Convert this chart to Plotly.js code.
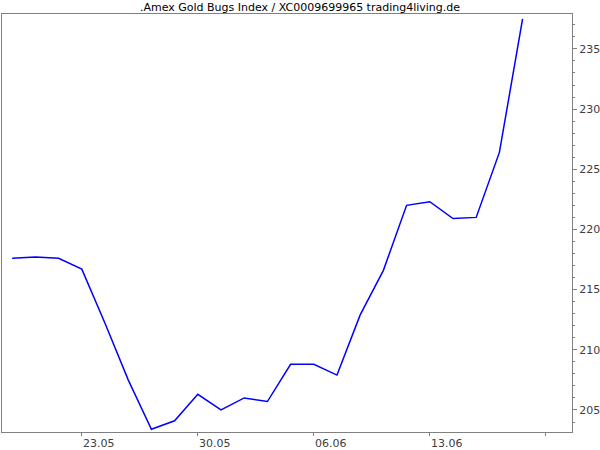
<!DOCTYPE html>
<html>
<head>
<meta charset="utf-8">
<script src="https://cdn.plot.ly/plotly-3.0.1.min.js"></script>
<style>
  html, body { margin: 0; padding: 0; background: #fff; }
  #chart { width: 600px; height: 450px; }
</style>
</head>
<body>
<div id="chart"></div>
<script>
// Trading days (dd.mm)
const dates = ['18.05','19.05','20.05','23.05','24.05','25.05','26.05','27.05',
               '30.05','31.05','01.06','02.06','03.06','06.06','07.06','08.06',
               '09.06','10.06','13.06','14.06','15.06','16.06','17.06'];
// Index close values
const closes = [217.6, 217.7, 217.6, 216.7, 212.2, 207.5, 203.4, 204.1,
                206.3, 205.0, 206.0, 205.7, 208.8, 208.8, 207.9, 212.9,
                216.6, 222.0, 222.3, 220.9, 221.0, 226.4, 237.5];
// Weekly tick labels (Mondays); last tick is drawn without a label
const tickDays  = ['23.05','30.05','06.06','13.06','20.06'];
const tickShown = [true, true, true, true, false];

const chartTitle = '.Amex Gold Bugs Index / XC0009699965 trading4living.de';

const xIdx = dates.map((d, i) => i);
const firstTick = dates.indexOf(tickDays[0]);
const tickvals = tickDays.map((d, k) => firstTick + 5 * k);
const ticktext = tickDays.map((d, k) => tickShown[k] ? d : '');

const trace = {
  x: xIdx,
  y: closes,
  text: dates,
  type: 'scatter',
  mode: 'lines',
  line: { color: '#0000ff', width: 1.5 },
  hovertemplate: '%{text}: %{y}<extra></extra>'
};

const frameColor = '#808080';
const tickFont = { family: 'DejaVu Sans, Verdana, sans-serif', size: 11, color: '#404040' };

const layout = {
  width: 600,
  height: 450,
  margin: { l: 2, r: 28, t: 14, b: 18, pad: 0 },
  paper_bgcolor: '#ffffff',
  plot_bgcolor: '#ffffff',
  showlegend: false,
  title: {
    text: chartTitle,
    font: { family: 'DejaVu Sans, Verdana, sans-serif', size: 11, color: '#000000' },
    x: 0.5, xanchor: 'center',
    y: 1, yref: 'paper', yanchor: 'bottom',
    pad: { b: 3 }
  },
  xaxis: {
    range: [-0.44, 24.13],
    tickmode: 'array',
    tickvals: tickvals,
    ticktext: ticktext,
    ticks: 'outside',
    ticklen: 3,
    tickcolor: frameColor,
    tickfont: tickFont,
    ticklabelshift: 17,
    ticklabelstandoff: -2,
    showgrid: false,
    zeroline: false,
    showline: true,
    linecolor: frameColor,
    linewidth: 1,
    mirror: true,
    fixedrange: true
  },
  yaxis: {
    side: 'right',
    range: [203.17, 237.9],
    tickmode: 'linear',
    tick0: 205,
    dtick: 5,
    ticks: 'outside',
    ticklen: 4,
    tickcolor: frameColor,
    tickfont: tickFont,
    minor: { dtick: 1, tick0: 205, ticks: 'outside', ticklen: 2, tickcolor: frameColor, showgrid: false },
    showgrid: false,
    zeroline: false,
    showline: true,
    linecolor: frameColor,
    linewidth: 1,
    mirror: true,
    fixedrange: true
  }
};

Plotly.newPlot('chart', [trace], layout, { displayModeBar: false, staticPlot: true });
</script>
</body>
</html>
